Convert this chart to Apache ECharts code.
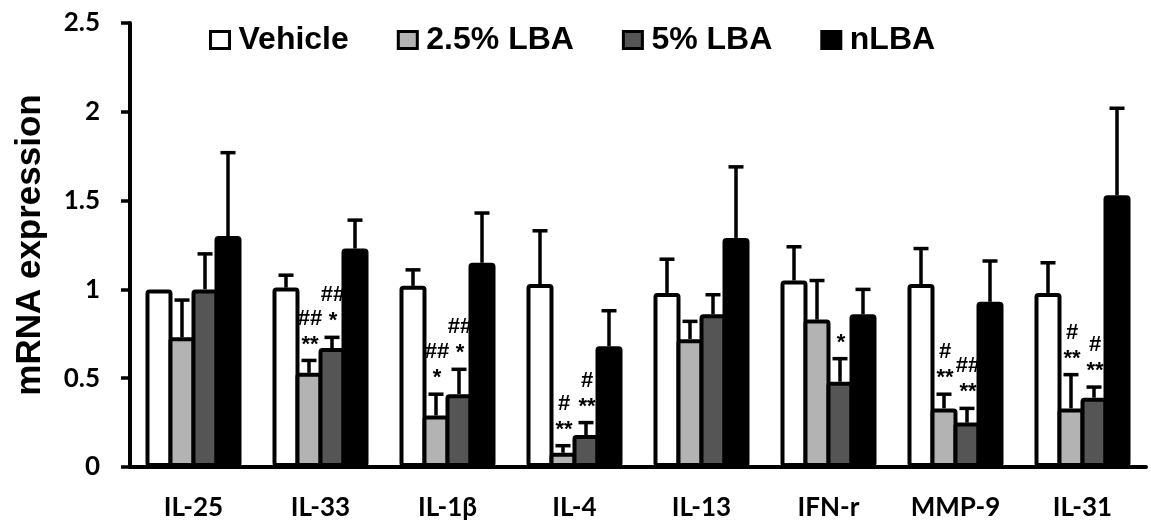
<!DOCTYPE html>
<html>
<head>
<meta charset="utf-8">
<script src="https://cdn.jsdelivr.net/npm/echarts@6/dist/echarts.min.js"></script>
<style>
    html, body { margin: 0; padding: 0; background: #fff; }
    #chart { width: 1151px; height: 524px; }
</style>
</head>
<body>
<div id="chart"></div>
<script>
const categories = ["IL-25", "IL-33", "IL-1β", "IL-4", "IL-13", "IFN-r", "MMP-9", "IL-31"];
const seriesNames = ["Vehicle", "2.5% LBA", "5% LBA", "nLBA"];

const vehicle = [1.0, 1.01, 1.02, 1.03, 0.98, 1.05, 1.03, 0.98];
const vehicleErr = [0, 0.07, 0.09, 0.3, 0.19, 0.19, 0.2, 0.17];
const lba25 = [0.73, 0.53, 0.29, 0.08, 0.72, 0.83, 0.33, 0.33];
const lba25Err = [0.21, 0.07, 0.12, 0.04, 0.1, 0.22, 0.08, 0.19];
const lba5 = [1.0, 0.67, 0.41, 0.18, 0.86, 0.48, 0.25, 0.39];
const lba5Err = [0.2, 0.06, 0.14, 0.07, 0.11, 0.13, 0.08, 0.06];
const nlba = [1.3, 1.23, 1.15, 0.68, 1.29, 0.86, 0.93, 1.53];
const nlbaErr = [0.47, 0.16, 0.28, 0.2, 0.4, 0.14, 0.23, 0.49];

// significance marks written above the error bars
const vehicleMarks = ["", "", "", "", "", "", "", ""];
const lba25Marks = ["", "##\n**", "##\n*", "#\n**", "", "", "#\n**", "#\n**"];
const lba5Marks = ["", "##\n*", "##\n*", "#\n**", "", "*", "##\n**", "#\n**"];
const nlbaMarks = ["", "", "", "", "", "", "", ""];

const means = [vehicle, lba25, lba5, nlba];
const errors = [vehicleErr, lba25Err, lba5Err, nlbaErr];
const marks = [vehicleMarks, lba25Marks, lba5Marks, nlbaMarks];
const colors = ["#ffffff", "#b3b3b3", "#555555", "#000000"];

// neighbouring bars overlap by one border so they share a single outline
const barWidth = 27;
const border = 4;
const step = barWidth - border;
const offsets = [-1.5, -0.5, 0.5, 1.5].map((k) => k * step);

const chart = echarts.init(document.getElementById("chart"));

const barSeries = seriesNames.map((name, i) => ({
    name,
    type: "bar",
    barWidth,
    barGap: (-100 * border / barWidth).toFixed(2) + "%",
    data: means[i],
    itemStyle: {
        color: colors[i],
        borderColor: "#000",
        borderWidth: border,
        borderRadius: 2,
    },
    emphasis: { disabled: true },
    z: 2,
}));

const errorSeries = seriesNames.map((name, i) => ({
    name: name + " err",
    type: "custom",
    z: 3,
    silent: true,
    data: means[i].map((v, c) => [c, v, errors[i][c]]),
    renderItem: (params, api) => {
        const c = api.value(0);
        const m = api.value(1);
        const e = api.value(2);
        const base = api.coord([c, m]);
        const top = api.coord([c, m + e]);
        const x = base[0] + offsets[i];
        const children = [];
        if (e > 0) {
            children.push({
                type: "line",
                shape: { x1: x, y1: base[1], x2: x, y2: top[1] },
                style: { stroke: "#000", lineWidth: 3.5 },
            });
            children.push({
                type: "line",
                shape: { x1: x - 7.5, y1: top[1], x2: x + 7.5, y2: top[1] },
                style: { stroke: "#000", lineWidth: 3.5 },
            });
        }
        const text = marks[i][params.dataIndex];
        if (text) {
            children.push({
                type: "text",
                style: {
                    text,
                    x: x + 1,
                    y: top[1] - 3,
                    align: "center",
                    verticalAlign: "bottom",
                    fontFamily: "Liberation Sans, Arial, sans-serif",
                    fontWeight: "bold",
                    fontSize: 22,
                    lineHeight: 26,
                    fill: "#000",
                },
            });
        }
        return { type: "group", children };
    },
}));

const option = {
    animation: false,
    backgroundColor: "#fff",
    grid: {
        left: 130,
        right: 5,
        top: 23,
        bottom: 57,
    },
    legend: {
        data: seriesNames,
        icon: "rect",
        left: 204,
        top: 19,
        itemWidth: 19,
        itemHeight: 17,
        itemGap: 48,
        itemStyle: { borderColor: "#000", borderWidth: 3 },
        textStyle: {
            fontFamily: "Liberation Sans, Arial, sans-serif",
            fontWeight: "bold",
            fontSize: 32,
            color: "#000",
            padding: [0, 0, 0, 4],
        },
        selectedMode: false,
    },
    xAxis: {
        type: "category",
        data: categories,
        axisLine: { lineStyle: { color: "#000", width: 4 } },
        axisTick: { inside: true, length: 9, lineStyle: { color: "#000", width: 3.5 } },
        axisLabel: {
            margin: 28,
            fontFamily: "Lato, sans-serif",
            fontWeight: "bold",
            fontSize: 26,
            color: "#000",
        },
    },
    yAxis: {
        type: "value",
        min: 0,
        max: 2.5,
        interval: 0.5,
        name: "mRNA expression",
        nameLocation: "middle",
        nameGap: 82,
        nameTextStyle: {
            fontFamily: "Liberation Sans, Arial, sans-serif",
            fontWeight: "bold",
            fontSize: 35,
            color: "#000",
        },
        splitLine: { show: false },
        axisLine: { show: true, lineStyle: { color: "#000", width: 4 } },
        axisTick: { show: true, length: 9, lineStyle: { color: "#000", width: 3.5 } },
        axisLabel: {
            margin: 30,
            fontFamily: "Lato, sans-serif",
            fontWeight: "bold",
            fontSize: 26,
            color: "#000",
        },
    },
    series: [...barSeries, ...errorSeries],
};

chart.setOption(option);
</script>
</body>
</html>
